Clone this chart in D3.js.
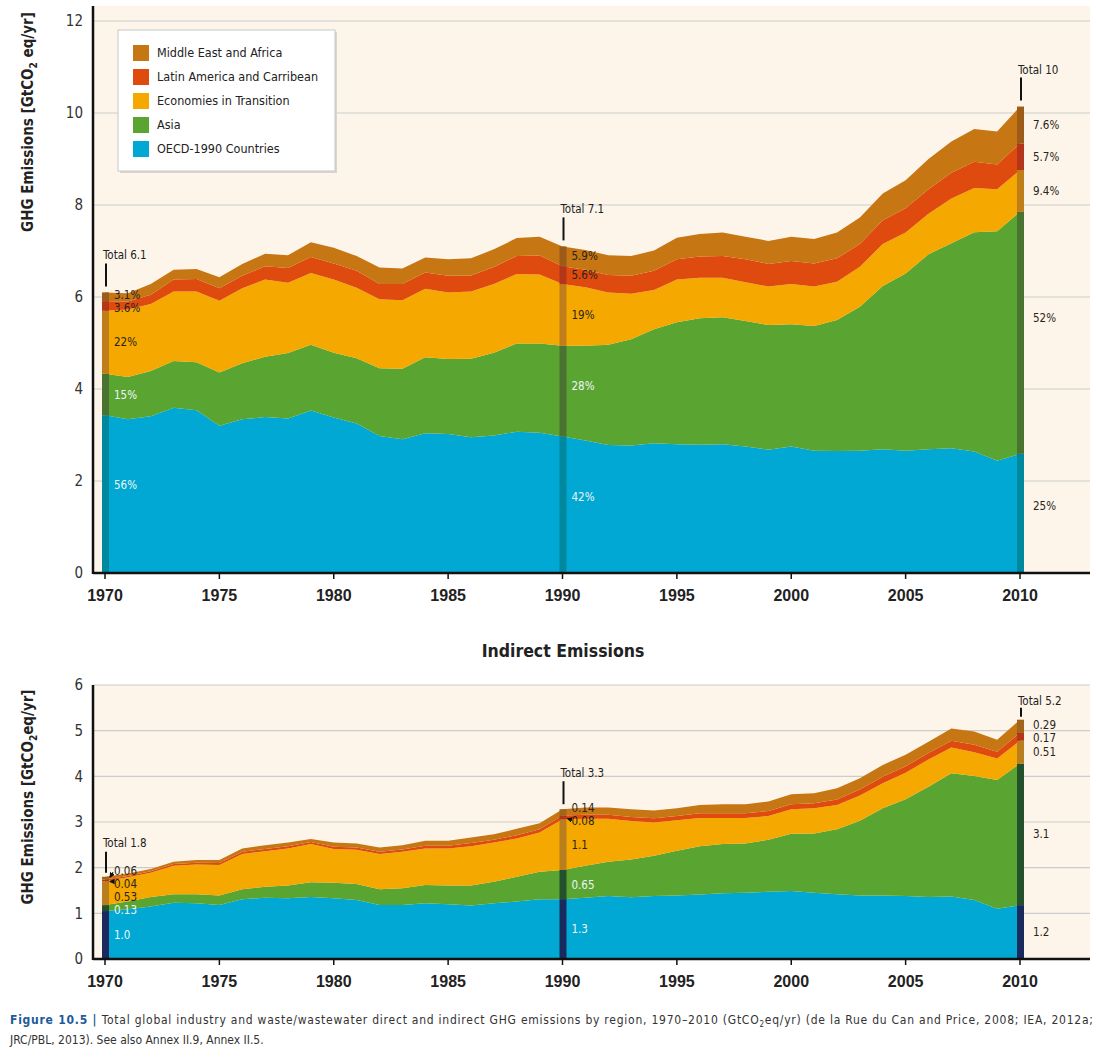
<!DOCTYPE html>
<html><head><meta charset="utf-8">
<script src="https://cdn.jsdelivr.net/npm/d3@7"></script>
<style>
body{margin:0;background:#fff;}
svg{display:block;}
text{font-family:"Liberation Sans Narrow","DejaVu Sans Condensed","Liberation Sans",sans-serif;}
</style>
</head><body>
<svg id="c" width="1096" height="1059"></svg>
<script>
// ---------- DATA ----------
const years = d3.range(1970, 2011);
const regionKeys = ["OECD", "Asia", "EIT", "LAC", "MEA"];
const regionNames = ["OECD-1990 Countries", "Asia", "Economies in Transition", "Latin America and Carribean", "Middle East and Africa"];

// Direct emissions (GtCO2eq/yr), 1970..2010
const directOECD = [3.43,3.34,3.41,3.59,3.54,3.20,3.34,3.39,3.36,3.53, 3.38,3.25,2.98,2.91,3.04,3.02,2.95,2.99,3.07,3.05, 2.97,2.88,2.78,2.77,2.82,2.80,2.79,2.80,2.75,2.68, 2.75,2.66,2.65,2.66,2.69,2.66,2.69,2.71,2.64,2.44, 2.59];
const directAsia = [0.90,0.92,0.98,1.02,1.04,1.16,1.22,1.31,1.42,1.43, 1.41,1.42,1.47,1.53,1.65,1.63,1.71,1.80,1.92,1.94, 1.97,2.06,2.18,2.31,2.48,2.65,2.75,2.76,2.73,2.71, 2.66,2.71,2.85,3.13,3.55,3.85,4.24,4.46,4.77,4.99, 5.26];
const directEIT  = [1.37,1.47,1.46,1.51,1.54,1.56,1.63,1.68,1.53,1.56, 1.59,1.53,1.50,1.49,1.49,1.45,1.46,1.49,1.51,1.50, 1.34,1.27,1.14,0.99,0.85,0.93,0.88,0.86,0.84,0.84, 0.87,0.86,0.83,0.87,0.91,0.89,0.88,0.97,0.96,0.91, 0.91];
const directLAC  = [0.21,0.17,0.20,0.26,0.27,0.27,0.27,0.29,0.32,0.35, 0.35,0.37,0.33,0.35,0.35,0.36,0.35,0.37,0.39,0.41, 0.39,0.38,0.38,0.39,0.42,0.44,0.46,0.47,0.50,0.49, 0.50,0.50,0.51,0.49,0.52,0.53,0.53,0.56,0.57,0.54, 0.58];
const directMEA  = [0.19,0.18,0.23,0.21,0.22,0.24,0.26,0.27,0.28,0.32, 0.34,0.32,0.36,0.34,0.33,0.36,0.37,0.39,0.39,0.41, 0.43,0.43,0.43,0.43,0.44,0.47,0.49,0.51,0.49,0.50, 0.53,0.53,0.56,0.58,0.58,0.61,0.66,0.68,0.71,0.72, 0.80];

// Indirect emissions
const indirectOECD = [1.05,1.09,1.15,1.23,1.22,1.18,1.31,1.34,1.33,1.36, 1.33,1.29,1.18,1.18,1.22,1.20,1.17,1.22,1.26,1.31, 1.31,1.34,1.38,1.35,1.38,1.39,1.41,1.44,1.45,1.47, 1.49,1.45,1.42,1.39,1.39,1.38,1.36,1.37,1.29,1.10, 1.18];
const indirectAsia = [0.13,0.17,0.21,0.19,0.20,0.21,0.22,0.24,0.28,0.32, 0.34,0.35,0.35,0.37,0.40,0.41,0.44,0.47,0.54,0.60, 0.64,0.70,0.75,0.83,0.88,0.98,1.06,1.08,1.08,1.14, 1.25,1.30,1.42,1.64,1.91,2.12,2.41,2.70,2.72,2.82, 3.10];
const indirectEIT  = [0.52,0.53,0.53,0.62,0.65,0.67,0.77,0.78,0.81,0.84, 0.74,0.75,0.77,0.80,0.80,0.81,0.86,0.86,0.84,0.86, 1.11,1.03,0.94,0.84,0.73,0.67,0.62,0.57,0.56,0.52, 0.54,0.55,0.53,0.55,0.55,0.58,0.60,0.56,0.52,0.47, 0.50];
const indirectLAC  = [0.04,0.03,0.03,0.04,0.04,0.04,0.05,0.05,0.05,0.04, 0.05,0.05,0.05,0.05,0.06,0.06,0.07,0.06,0.07,0.07, 0.08,0.09,0.09,0.09,0.09,0.09,0.10,0.10,0.10,0.11, 0.11,0.11,0.12,0.13,0.14,0.14,0.14,0.15,0.16,0.15, 0.17];
const indirectMEA  = [0.06,0.05,0.05,0.05,0.06,0.07,0.07,0.08,0.08,0.07, 0.09,0.09,0.09,0.09,0.11,0.11,0.12,0.12,0.14,0.13, 0.14,0.16,0.16,0.17,0.17,0.17,0.18,0.20,0.20,0.21, 0.22,0.22,0.25,0.25,0.26,0.25,0.25,0.27,0.29,0.26, 0.29];

// Annotations
const markYears = [1970, 1990, 2010];
const directTotals = ["Total 6.1", "Total 7.1", "Total 10"];
const directShares = [["56%","15%","22%","3.6%","3.1%"], ["42%","28%","19%","5.6%","5.9%"], ["25%","52%","9.4%","5.7%","7.6%"]];
const indirectTotals = ["Total 1.8", "Total 3.3", "Total 5.2"];
const indirectShares = [["1.0","0.13","0.53","0.04","0.06"], ["1.3","0.65","1.1","0.08","0.14"], ["1.2","3.1","0.51","0.17","0.29"]];

const directTicks = [0, 2, 4, 6, 8, 10, 12];
const indirectTicks = [0, 1, 2, 3, 4, 5, 6];
const xTicks = [1970, 1975, 1980, 1985, 1990, 1995, 2000, 2005, 2010];

// ---------- STYLE ----------
const fills = {OECD:"#00a8d3", Asia:"#5aa532", EIT:"#f5a800", LAC:"#df4a0e", MEA:"#c67613"};
const barFillsTop = {OECD:"#00889f", Asia:"#4a7331", EIT:"#bf7e1a", LAC:"#b3361a", MEA:"#9c5b19"};
const barFillsBot = {OECD:"#1b2a5c", Asia:"#23512b", EIT:"#b97e1e", LAC:"#b3361a", MEA:"#a1641b"};
const BG = "#fdf5e9", GRID = "#cccccc", AX = "#111";
const LBL = 11.5;

const svg = d3.select("#c");

function rows(a, b, c, d, e) {
  return years.map((y, i) => ({year: y, OECD: a[i], Asia: b[i], EIT: c[i], LAC: d[i], MEA: e[i]}));
}

const x = d3.scaleLinear().domain([1970, 2010]).range([105, 1020]);
const X0 = 93, X1 = 1090;

function panel(cfg) {
  const {y, bgTop, data, ticks, totals, shares, barFills, yTitle, lead, arrowFlags, bigFrac} = cfg;
  const g = svg.append("g");
  const y0 = y(0);
  g.append("rect").attr("x", X0).attr("y", bgTop).attr("width", X1 - X0).attr("height", y0 - bgTop).attr("fill", BG);
  g.selectAll("line.grid").data(ticks.filter(t => t > 0)).join("line")
    .attr("x1", X0).attr("x2", X1).attr("y1", d => y(d)).attr("y2", d => y(d))
    .attr("stroke", GRID).attr("stroke-width", 1.2);
  const series = d3.stack().keys(regionKeys)(data);
  const area = d3.area().x(d => x(d.data.year)).y0(d => y(d[0])).y1(d => y(d[1]));
  g.selectAll("path.layer").data(series).join("path")
    .attr("d", area).attr("fill", s => fills[s.key]);
  markYears.forEach((yr, k) => {
    const i = years.indexOf(yr);
    const bx = x(yr) - 3;
    series.forEach(s => {
      g.append("rect").attr("x", bx).attr("width", 7)
        .attr("y", y(s[i][1])).attr("height", y(s[i][0]) - y(s[i][1]))
        .attr("fill", barFills[s.key]);
    });
    const top = y(series[4][i][1]);
    const L = lead[k];
    g.append("line").attr("x1", x(yr) + 1).attr("x2", x(yr) + 1)
      .attr("y1", top - L[1]).attr("y2", top - L[2]).attr("stroke", "#111").attr("stroke-width", 2);
    g.append("text").attr("x", x(yr) - 2).attr("y", top - L[0])
      .attr("font-size", LBL).attr("fill", "#222").text(totals[k]);
    const mids = series.map(s => {
      const a = y(s[i][1]), b = y(s[i][0]), h = b - a;
      return {mid: (a + b) / 2, pos: h > 80 ? a + h * bigFrac : (a + b) / 2, h};
    });
    const pos = mids.map(m => m.pos);
    for (let it = 0; it < 60; it++) {
      for (let j = 4; j > 0; j--) {
        const gap = pos[j - 1] - pos[j];
        if (gap < 13) { const d = (13 - gap) / 2; pos[j] -= d; pos[j - 1] += d; }
      }
    }
    const lx = x(yr) + (yr === 2010 ? 13 : 9);
    regionKeys.forEach((key, j) => {
      const light = yr !== 2010 && j < 2;
      g.append("text").attr("x", lx).attr("y", pos[j]).attr("dy", "0.35em")
        .attr("font-size", LBL).attr("fill", light ? "#eef6f4" : "#2a2418").text(shares[k][j]);
      if (arrowFlags && arrowFlags[k].includes(j)) {
        const above = pos[j] < mids[j].mid;
        g.append("line").attr("x1", lx - 1).attr("y1", pos[j] + (above ? 2 : -2))
          .attr("x2", x(yr) + 5).attr("y2", mids[j].mid + (above ? -1 : 1))
          .attr("stroke", "#111").attr("stroke-width", 1.4).attr("marker-end", "url(#ah)");
      }
    });
  });
  g.append("line").attr("x1", X0).attr("x2", X1).attr("y1", y0).attr("y2", y0).attr("stroke", AX).attr("stroke-width", 2.5);
  g.append("line").attr("x1", X0).attr("x2", X0).attr("y1", bgTop).attr("y2", y0 + 1).attr("stroke", AX).attr("stroke-width", 2.5);
  g.selectAll("line.xt").data(xTicks).join("line")
    .attr("x1", d => x(d)).attr("x2", d => x(d)).attr("y1", y0).attr("y2", y0 + 6)
    .attr("stroke", AX).attr("stroke-width", 1.5);
  g.selectAll("text.xl").data(xTicks).join("text")
    .attr("x", d => x(d)).attr("y", y0 + 28).attr("text-anchor", "middle")
    .style("font-family", "'Liberation Sans',Arial,sans-serif").attr("font-weight", "bold")
    .attr("font-size", 16).attr("fill", "#222").text(d => d);
  g.selectAll("text.yl").data(ticks).join("text")
    .attr("x", 83).attr("y", d => y(d)).attr("dy", "0.36em").attr("text-anchor", "end")
    .attr("font-size", 15).attr("fill", "#333").text(d => d);
  const t = g.append("text").attr("transform", `translate(33,${yTitle.cy}) rotate(-90)`)
    .attr("text-anchor", "middle").attr("font-weight", "bold").attr("font-size", 15).attr("fill", "#222");
  t.append("tspan").text("GHG Emissions [GtCO");
  t.append("tspan").attr("font-size", 10).attr("dy", 4).text("2");
  t.append("tspan").attr("dy", -4).text(yTitle.tail);
}

const defs = svg.append("defs");
defs.append("marker").attr("id", "ah").attr("viewBox", "0 0 6 6").attr("refX", 5).attr("refY", 3)
  .attr("markerWidth", 4).attr("markerHeight", 4).attr("orient", "auto")
  .append("path").attr("d", "M0,0 L6,3 L0,6 Z").attr("fill", "#111");

panel({
  y: d3.scaleLinear().domain([0, 12]).range([573, 21]), bgTop: 6,
  data: rows(directOECD, directAsia, directEIT, directLAC, directMEA),
  ticks: directTicks, totals: directTotals, shares: directShares, barFills: barFillsTop,
  yTitle: {cy: 122, tail: " eq/yr]"}, lead: [[33, 29, 6], [33, 29, 6], [33, 29, 6]], arrowFlags: null, bigFrac: 0.44
});
panel({
  y: d3.scaleLinear().domain([0, 6]).range([959, 685]), bgTop: 685,
  data: rows(indirectOECD, indirectAsia, indirectEIT, indirectLAC, indirectMEA),
  ticks: indirectTicks, totals: indirectTotals, shares: indirectShares, barFills: barFillsBot,
  yTitle: {cy: 797, tail: "eq/yr]"}, lead: [[30, 25, 4], [32, 28, 5], [15, 12, 3]], arrowFlags: [[3, 4], [3], []], bigFrac: 0.5
});

// legend
const lg = svg.append("g");
lg.append("rect").attr("x", 120).attr("y", 32).attr("width", 217).attr("height", 141).attr("fill", "#d9d6d0");
lg.append("rect").attr("x", 118).attr("y", 30).attr("width", 217).attr("height", 141).attr("fill", "#fff").attr("stroke", "#c8c8c8");
[4, 3, 2, 1, 0].forEach((j, r) => {
  lg.append("rect").attr("x", 133).attr("y", 45 + r * 24).attr("width", 16).attr("height", 16).attr("fill", fills[regionKeys[j]]);
  lg.append("text").attr("x", 157).attr("y", 53 + r * 24).attr("dy", "0.35em").attr("font-size", 12.5).attr("fill", "#222").text(regionNames[j]);
});

svg.append("text").attr("x", 563).attr("y", 657).attr("text-anchor", "middle")
  .attr("font-weight", "bold").attr("font-size", 17.5).attr("fill", "#222").text("Indirect Emissions");

// caption
const c1 = svg.append("text").attr("x", 10).attr("y", 1024).attr("font-size", 12).attr("fill", "#333")
  .attr("textLength", 1083).attr("lengthAdjust", "spacing");
c1.append("tspan").attr("font-weight", "bold").attr("fill", "#1d5a99").text("Figure 10.5 | ");
c1.append("tspan").text("Total global industry and waste/wastewater direct and indirect GHG emissions by region, 1970–2010 (GtCO");
c1.append("tspan").attr("font-size", 8).attr("dy", 3).text("2");
c1.append("tspan").attr("dy", -3).text("eq/yr) (de la Rue du Can and Price, 2008; IEA, 2012a;");
svg.append("text").attr("x", 10).attr("y", 1044).attr("font-size", 12).attr("fill", "#333")
  .text("JRC/PBL, 2013). See also Annex II.9, Annex II.5.");
</script>
</body></html>
